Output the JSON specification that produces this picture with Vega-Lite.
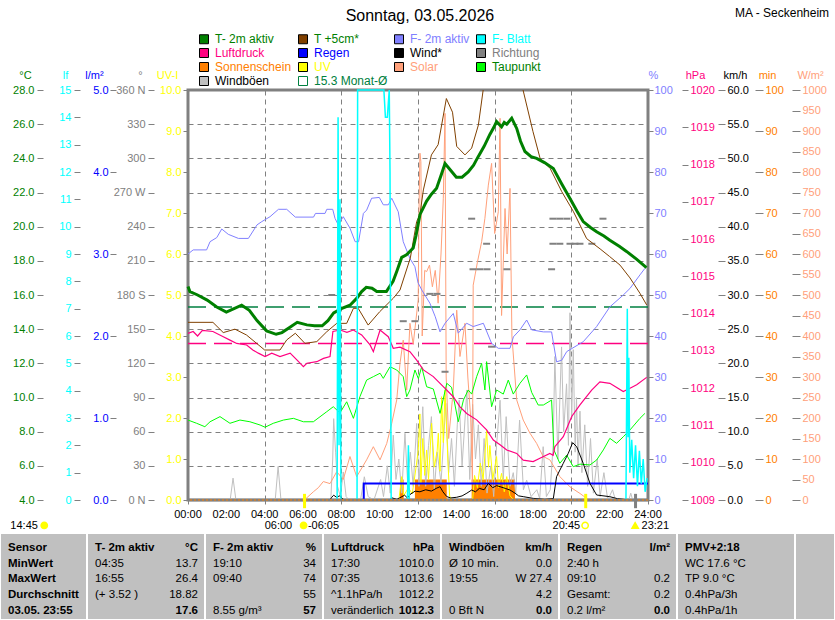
{
  "$schema": "https://vega.github.io/schema/vega-lite/v6.json",
  "width": 460,
  "height": 410,
  "autosize": "none",
  "padding": {"left": 188, "top": 90, "right": 187, "bottom": 120},
  "config": {
    "view": {"stroke": "#808080", "strokeWidth": 3},
    "font": "Liberation Sans",
    "axis": {
      "labelFont": "Liberation Sans", "labelFontSize": 11, "titleFont": "Liberation Sans", "titleFontSize": 11,
      "titleFontWeight": "normal", "tickColor": "#808080", "domain": false, "grid": false,
      "labelFlush": false, "labelOverlap": false, "titleAngle": 0, "titleAlign": "center",
      "titleBaseline": "middle", "titleY": -15, "titlePadding": 0
    },
    "text": {"font": "Liberation Sans"}
  },
  "datasets": {
    "t2m": [
      {"h":0,"v":16.5},{"h":0.1,"v":16.2},{"h":0.5,"v":16.0},{"h":1.0,"v":15.7},{"h":1.5,"v":15.3},{"h":2.0,"v":15.0},{"h":2.4,"v":15.2},{"h":2.8,"v":15.4},{"h":3.2,"v":15.1},{"h":3.6,"v":14.5},{"h":4.1,"v":13.9},{"h":4.6,"v":13.7},{"h":4.9,"v":13.8},{"h":5.3,"v":14.1},{"h":5.7,"v":14.4},{"h":6.2,"v":14.25},{"h":6.6,"v":14.2},{"h":7.0,"v":14.2},{"h":7.3,"v":14.5},{"h":7.6,"v":14.95},{"h":8.0,"v":15.2},{"h":8.45,"v":15.4},{"h":8.8,"v":15.8},{"h":9.06,"v":16.2},{"h":9.3,"v":16.45},{"h":9.6,"v":16.4},{"h":9.85,"v":16.2},{"h":10.35,"v":16.2},{"h":10.7,"v":16.8},{"h":10.9,"v":17.4},{"h":11.15,"v":18.2},{"h":11.4,"v":18.35},{"h":11.75,"v":18.75},{"h":11.9,"v":19.5},{"h":12.1,"v":20.7},{"h":12.45,"v":21.5},{"h":12.7,"v":21.9},{"h":12.97,"v":22.25},{"h":13.2,"v":23.0},{"h":13.41,"v":23.7},{"h":13.7,"v":23.3},{"h":14.0,"v":22.9},{"h":14.3,"v":22.9},{"h":14.62,"v":23.2},{"h":14.9,"v":23.6},{"h":15.14,"v":24.1},{"h":15.45,"v":24.7},{"h":15.75,"v":25.4},{"h":15.95,"v":25.8},{"h":16.1,"v":26.15},{"h":16.36,"v":25.85},{"h":16.5,"v":26.1},{"h":16.63,"v":26.0},{"h":16.89,"v":26.35},{"h":17.15,"v":25.75},{"h":17.35,"v":25.0},{"h":17.58,"v":24.4},{"h":17.9,"v":24.1},{"h":18.19,"v":24.0},{"h":18.6,"v":23.75},{"h":19.06,"v":23.4},{"h":19.5,"v":22.5},{"h":19.93,"v":21.65},{"h":20.3,"v":20.9},{"h":20.62,"v":20.3},{"h":21.0,"v":19.95},{"h":21.32,"v":19.7},{"h":21.7,"v":19.45},{"h":22.01,"v":19.2},{"h":22.5,"v":18.85},{"h":22.88,"v":18.55},{"h":23.4,"v":18.1},{"h":23.92,"v":17.6}
    ],
    "t5": [
      {"h":0,"v":14.4},{"h":1.3,"v":14.4},{"h":1.84,"v":13.8},{"h":2.45,"v":14.0},{"h":3.05,"v":13.66},{"h":4.0,"v":12.78},{"h":4.8,"v":12.78},{"h":5.15,"v":13.37},{"h":5.6,"v":13.76},{"h":6.1,"v":13.17},{"h":6.72,"v":13.27},{"h":7.24,"v":13.85},{"h":7.76,"v":14.34},{"h":8.28,"v":14.34},{"h":8.63,"v":15.22},{"h":8.88,"v":15.22},{"h":9.4,"v":14.24},{"h":10.0,"v":15.02},{"h":10.71,"v":15.81},{"h":11.06,"v":16.29},{"h":11.6,"v":18.17},{"h":11.93,"v":20.3},{"h":12.1,"v":20.7},{"h":12.28,"v":22.15},{"h":12.7,"v":24.2},{"h":13.05,"v":24.8},{"h":13.48,"v":27.5},{"h":13.8,"v":26.7},{"h":14.02,"v":24.7},{"h":14.45,"v":24.2},{"h":14.8,"v":24.6},{"h":15.15,"v":25.95},{"h":15.4,"v":28.0},{"h":16.0,"v":31.5},{"h":16.5,"v":32.5},{"h":17.0,"v":31.0},{"h":17.48,"v":28.0},{"h":18.0,"v":25.56},{"h":18.37,"v":24.0},{"h":18.9,"v":23.4},{"h":19.5,"v":22.05},{"h":20.1,"v":20.9},{"h":20.8,"v":19.3},{"h":21.5,"v":18.7},{"h":22.0,"v":18.25},{"h":22.54,"v":17.75},{"h":23.06,"v":17.0},{"h":23.58,"v":16.1},{"h":23.93,"v":15.42}
    ],
    "f2m": [
      {"h":0,"v":60},{"h":0.27,"v":61},{"h":0.97,"v":61},{"h":1.15,"v":63},{"h":1.5,"v":64},{"h":1.76,"v":66.1},{"h":2.1,"v":64.8},{"h":2.63,"v":63.8},{"h":3.15,"v":63.8},{"h":3.6,"v":67.1},{"h":3.85,"v":67.9},{"h":4.28,"v":69.1},{"h":4.72,"v":70.9},{"h":5.15,"v":70.9},{"h":5.6,"v":69},{"h":6.55,"v":69},{"h":6.65,"v":69.9},{"h":7.15,"v":69.9},{"h":7.24,"v":70.9},{"h":7.55,"v":70.9},{"h":7.67,"v":68.7},{"h":7.84,"v":67.1},{"h":8.1,"v":69.1},{"h":8.45,"v":66.3},{"h":8.72,"v":63},{"h":8.9,"v":63},{"h":9.15,"v":69.9},{"h":9.32,"v":70.7},{"h":9.58,"v":73.6},{"h":9.98,"v":73.8},{"h":10.19,"v":72},{"h":10.45,"v":72},{"h":10.63,"v":73.6},{"h":10.97,"v":70.3},{"h":11.23,"v":63},{"h":11.58,"v":58.9},{"h":11.84,"v":56.9},{"h":12.0,"v":53},{"h":12.2,"v":51.2},{"h":12.62,"v":48},{"h":12.9,"v":44.7},{"h":13.15,"v":41},{"h":13.41,"v":43.1},{"h":13.84,"v":45.5},{"h":14.1,"v":40.7},{"h":14.54,"v":43.1},{"h":14.88,"v":42.3},{"h":15.41,"v":43.1},{"h":15.84,"v":38.2},{"h":16.19,"v":37},{"h":16.8,"v":37},{"h":16.98,"v":39.8},{"h":17.32,"v":41.5},{"h":17.67,"v":43.9},{"h":17.93,"v":41.5},{"h":18.54,"v":41},{"h":18.97,"v":41},{"h":19.23,"v":33.7},{"h":19.5,"v":34.1},{"h":19.76,"v":36.2},{"h":20.62,"v":38.6},{"h":21.32,"v":42.3},{"h":22.01,"v":47.1},{"h":22.71,"v":50},{"h":23.06,"v":51.6},{"h":23.58,"v":54.9},{"h":23.84,"v":56.5}
    ],
    "fblatt": [
      {"h":0,"v":0},{"h":7.78,"v":0},{"h":7.83,"v":14},{"h":7.88,"v":2},{"h":7.93,"v":11},{"h":7.98,"v":0},{"h":8.82,"v":0},{"h":8.85,"v":15},{"h":10.22,"v":15},{"h":10.3,"v":14},{"h":10.4,"v":14},{"h":10.45,"v":14.5},{"h":10.5,"v":15},{"h":10.54,"v":12},{"h":10.6,"v":0},{"h":11.45,"v":0},{"h":11.5,"v":2},{"h":11.55,"v":0},{"h":22.85,"v":0},{"h":22.92,"v":7},{"h":22.96,"v":2.3},{"h":23.0,"v":5.2},{"h":23.05,"v":1},{"h":23.15,"v":2.2},{"h":23.25,"v":0.8},{"h":23.35,"v":2.0},{"h":23.45,"v":0.5},{"h":23.55,"v":1.8},{"h":23.65,"v":0.6},{"h":23.75,"v":1.5},{"h":23.85,"v":0.3},{"h":23.95,"v":0.8}
    ],
    "luftdruck": [
      {"h":0,"v":1013.47},{"h":0.27,"v":1013.52},{"h":0.5,"v":1013.4},{"h":0.75,"v":1013.55},{"h":1.3,"v":1013.52},{"h":1.84,"v":1013.38},{"h":2.19,"v":1013.29},{"h":2.54,"v":1013.2},{"h":3.06,"v":1013.16},{"h":3.4,"v":1013.02},{"h":3.67,"v":1012.94},{"h":4.02,"v":1012.85},{"h":4.37,"v":1012.94},{"h":4.8,"v":1012.85},{"h":5.33,"v":1012.94},{"h":5.68,"v":1012.76},{"h":6.02,"v":1012.58},{"h":6.2,"v":1012.67},{"h":6.72,"v":1012.71},{"h":7.07,"v":1012.8},{"h":7.41,"v":1012.85},{"h":7.56,"v":1013.52},{"h":7.94,"v":1013.56},{"h":8.29,"v":1013.5},{"h":8.63,"v":1013.56},{"h":9.06,"v":1013.43},{"h":9.5,"v":1013.16},{"h":9.67,"v":1012.98},{"h":10.02,"v":1013.56},{"h":10.45,"v":1013.38},{"h":10.71,"v":1013.07},{"h":11.06,"v":1013.1},{"h":11.58,"v":1012.98},{"h":11.93,"v":1012.75},{"h":12.28,"v":1012.49},{"h":12.8,"v":1012.31},{"h":13.32,"v":1012.04},{"h":13.84,"v":1011.77},{"h":14.19,"v":1011.5},{"h":14.54,"v":1011.32},{"h":15.06,"v":1011.15},{"h":15.58,"v":1010.88},{"h":15.93,"v":1010.61},{"h":16.28,"v":1010.48},{"h":16.63,"v":1010.34},{"h":17.15,"v":1010.25},{"h":17.49,"v":1010.07},{"h":18.01,"v":1010.03},{"h":18.36,"v":1010.12},{"h":18.88,"v":1010.25},{"h":19.05,"v":1010.2},{"h":19.14,"v":1010.43},{"h":19.58,"v":1010.7},{"h":20.02,"v":1011.24},{"h":20.45,"v":1011.55},{"h":21.06,"v":1011.95},{"h":21.49,"v":1012.17},{"h":22.01,"v":1012.13},{"h":22.71,"v":1011.91},{"h":23.06,"v":1012.0},{"h":23.41,"v":1012.09},{"h":23.93,"v":1012.29}
    ],
    "regen": [
      {"h":9.15,"v":0},{"h":9.17,"v":0.2},{"h":24,"v":0.2}
    ],
    "wind": [
      {"h":0,"v":0},{"h":7.4,"v":0},{"h":7.5,"v":0.4},{"h":7.6,"v":0.7},{"h":7.75,"v":0.4},{"h":7.9,"v":0.6},{"h":8.1,"v":0.1},{"h":8.3,"v":0},{"h":10.5,"v":0},{"h":10.65,"v":0.3},{"h":10.9,"v":0.1},{"h":11.3,"v":0.7},{"h":11.45,"v":0.3},{"h":11.58,"v":0.8},{"h":11.85,"v":1.3},{"h":12.1,"v":1.2},{"h":12.4,"v":1.5},{"h":12.7,"v":1.3},{"h":12.95,"v":1.7},{"h":13.15,"v":1.95},{"h":13.3,"v":1.2},{"h":13.5,"v":0.5},{"h":13.7,"v":0.3},{"h":14.02,"v":0.4},{"h":14.3,"v":0.6},{"h":14.55,"v":1.0},{"h":14.8,"v":1.46},{"h":15.0,"v":1.2},{"h":15.2,"v":1.7},{"h":15.45,"v":1.5},{"h":15.67,"v":2.44},{"h":15.9,"v":1.8},{"h":16.1,"v":2.1},{"h":16.28,"v":1.95},{"h":16.55,"v":1.7},{"h":16.8,"v":1.46},{"h":17.06,"v":1.0},{"h":17.25,"v":0.6},{"h":17.49,"v":0.49},{"h":18.01,"v":0.24},{"h":18.62,"v":0.1},{"h":19.06,"v":0.2},{"h":19.23,"v":3.41},{"h":19.58,"v":5.37},{"h":19.84,"v":6.83},{"h":20.07,"v":8.39},{"h":20.28,"v":7.8},{"h":20.62,"v":5.37},{"h":20.97,"v":2.44},{"h":21.32,"v":0.73},{"h":22.0,"v":0.49},{"h":22.4,"v":0.2},{"h":22.71,"v":0.1},{"h":22.9,"v":0},{"h":24,"v":0}
    ],
    "boeen": [
      {"h":0,"v":0},{"h":2.2,"v":0},{"h":2.35,"v":3.2},{"h":2.5,"v":0},{"h":4.55,"v":0},{"h":4.7,"v":4.9},{"h":4.85,"v":0},{"h":7.45,"v":0},{"h":7.55,"v":6},{"h":7.6,"v":11.9},{"h":7.7,"v":7},{"h":7.8,"v":2},{"h":7.95,"v":0.5},{"h":8.1,"v":4.1},{"h":8.25,"v":0.5},{"h":8.4,"v":0},{"h":9.0,"v":0},{"h":9.2,"v":3.4},{"h":9.4,"v":0.5},{"h":9.7,"v":0},{"h":10.05,"v":3},{"h":10.2,"v":0.5},{"h":10.4,"v":5},{"h":10.55,"v":1},{"h":10.71,"v":9.5},{"h":10.85,"v":3},{"h":11.0,"v":6},{"h":11.15,"v":1},{"h":11.32,"v":9.76},{"h":11.45,"v":3},{"h":11.6,"v":7},{"h":11.75,"v":2},{"h":11.93,"v":11.2},{"h":12.05,"v":2},{"h":12.25,"v":13.65},{"h":12.4,"v":2},{"h":12.55,"v":8},{"h":12.7,"v":12.2},{"h":12.85,"v":1.5},{"h":13.0,"v":7},{"h":13.2,"v":2.5},{"h":13.45,"v":14.15},{"h":13.6,"v":4},{"h":13.75,"v":9},{"h":13.9,"v":2},{"h":14.05,"v":11},{"h":14.15,"v":14.6},{"h":14.3,"v":5},{"h":14.55,"v":16.1},{"h":14.7,"v":3},{"h":14.85,"v":14},{"h":15.0,"v":6},{"h":15.15,"v":11},{"h":15.3,"v":2},{"h":15.45,"v":9},{"h":15.6,"v":1},{"h":15.8,"v":5},{"h":15.95,"v":0.5},{"h":16.1,"v":8},{"h":16.28,"v":14.6},{"h":16.45,"v":3},{"h":16.6,"v":12.2},{"h":16.8,"v":2},{"h":16.97,"v":4},{"h":17.1,"v":1},{"h":17.3,"v":11.7},{"h":17.5,"v":1.5},{"h":17.67,"v":2.9},{"h":17.9,"v":0.5},{"h":18.2,"v":1.5},{"h":18.35,"v":0.2},{"h":18.53,"v":7.8},{"h":18.7,"v":0.5},{"h":18.9,"v":1.5},{"h":19.05,"v":8},{"h":19.14,"v":21},{"h":19.3,"v":6},{"h":19.49,"v":22.4},{"h":19.6,"v":10},{"h":19.75,"v":17},{"h":19.85,"v":8},{"h":19.93,"v":27.4},{"h":20.02,"v":12},{"h":20.1,"v":22},{"h":20.2,"v":7},{"h":20.27,"v":15},{"h":20.35,"v":5},{"h":20.45,"v":13},{"h":20.55,"v":4},{"h":20.7,"v":11},{"h":20.85,"v":2},{"h":21.0,"v":9},{"h":21.15,"v":1},{"h":21.35,"v":6},{"h":21.5,"v":0.5},{"h":21.7,"v":4},{"h":21.9,"v":0},{"h":22.15,"v":1.5},{"h":22.3,"v":0},{"h":23.0,"v":0},{"h":23.1,"v":1},{"h":23.2,"v":0},{"h":24,"v":0}
    ],
    "richtung": [
      {"h":7.5,"v":180},{"h":11.23,"v":157},{"h":11.84,"v":157},{"h":12.62,"v":181},{"h":12.99,"v":181},{"h":13.41,"v":112.6},{"h":14.8,"v":247},{"h":14.87,"v":202.6},{"h":15.23,"v":202.6},{"h":15.6,"v":202.6},{"h":15.58,"v":225},{"h":15.84,"v":134.6},{"h":16.64,"v":202.6},{"h":19.04,"v":247},{"h":19.4,"v":247},{"h":19.77,"v":247},{"h":21.65,"v":247},{"h":19.04,"v":225},{"h":19.4,"v":225},{"h":19.93,"v":225},{"h":20.19,"v":225},{"h":20.45,"v":225},{"h":21.07,"v":225},{"h":18.97,"v":202.6}
    ],
    "sonne": [
      {"h":0,"v":0},{"h":11.06,"v":5},{"h":11.25,"v":0},{"h":11.84,"v":5},{"h":13.5,"v":0},{"h":14.8,"v":5},{"h":17.06,"v":0},{"h":24,"v":0}
    ],
    "uv": [
      {"h":0,"v":0},{"h":11.0,"v":0},{"h":11.15,"v":0.57},{"h":11.25,"v":0.1},{"h":11.5,"v":0.3},{"h":11.7,"v":0.15},{"h":11.9,"v":0.8},{"h":12.01,"v":1.2},{"h":12.1,"v":2.1},{"h":12.15,"v":0.4},{"h":12.25,"v":1.5},{"h":12.35,"v":0.6},{"h":12.45,"v":1.22},{"h":12.55,"v":0.5},{"h":12.71,"v":1.87},{"h":12.85,"v":0.8},{"h":13.0,"v":1.2},{"h":13.06,"v":1.63},{"h":13.15,"v":0.7},{"h":13.23,"v":2.52},{"h":13.32,"v":1.4},{"h":13.41,"v":2.68},{"h":13.58,"v":0.75},{"h":13.65,"v":0.1},{"h":13.75,"v":0},{"h":14.85,"v":0},{"h":14.95,"v":0.6},{"h":15.1,"v":0.3},{"h":15.25,"v":0.9},{"h":15.4,"v":0.5},{"h":15.58,"v":1.7},{"h":15.68,"v":0.8},{"h":15.75,"v":1.33},{"h":15.9,"v":0.5},{"h":16.1,"v":1.06},{"h":16.2,"v":0.3},{"h":16.36,"v":0.65},{"h":16.5,"v":0.2},{"h":16.63,"v":0.57},{"h":16.8,"v":0.1},{"h":17.0,"v":0},{"h":24,"v":0}
    ],
    "solar": [
      {"h":0,"v":0},{"h":6.05,"v":0},{"h":6.19,"v":5},{"h":6.54,"v":20},{"h":6.8,"v":30},{"h":7.06,"v":45},{"h":7.41,"v":40},{"h":7.76,"v":69},{"h":8.1,"v":50},{"h":8.45,"v":106},{"h":8.8,"v":57},{"h":9.32,"v":98},{"h":9.67,"v":130},{"h":10.02,"v":98},{"h":10.37,"v":138},{"h":10.63,"v":187},{"h":10.89,"v":244},{"h":11.06,"v":333},{"h":11.23,"v":390},{"h":11.41,"v":268},{"h":11.58,"v":431},{"h":11.75,"v":380},{"h":12.01,"v":488},{"h":12.05,"v":700},{"h":12.1,"v":846},{"h":12.15,"v":825},{"h":12.22,"v":400},{"h":12.35,"v":560},{"h":12.45,"v":557},{"h":12.6,"v":573},{"h":12.75,"v":520},{"h":12.9,"v":560},{"h":13.05,"v":480},{"h":13.2,"v":600},{"h":13.32,"v":736},{"h":13.41,"v":943},{"h":13.47,"v":300},{"h":13.6,"v":150},{"h":13.84,"v":268},{"h":14.02,"v":463},{"h":14.19,"v":350},{"h":14.45,"v":431},{"h":14.6,"v":300},{"h":14.75,"v":200},{"h":14.84,"v":41},{"h":14.88,"v":524},{"h":15.1,"v":580},{"h":15.32,"v":630},{"h":15.49,"v":687},{"h":15.67,"v":768},{"h":15.84,"v":821},{"h":16.0,"v":650},{"h":16.19,"v":703},{"h":16.28,"v":931},{"h":16.36,"v":450},{"h":16.54,"v":711},{"h":16.65,"v":600},{"h":16.8,"v":760},{"h":16.9,"v":400},{"h":17.15,"v":244},{"h":17.49,"v":195},{"h":17.84,"v":163},{"h":18.19,"v":138},{"h":18.53,"v":106},{"h":18.88,"v":98},{"h":19.4,"v":57},{"h":19.93,"v":32},{"h":20.45,"v":16},{"h":20.8,"v":4},{"h":21.0,"v":0},{"h":24,"v":0}
    ],
    "taupunkt": [
      {"h":0,"v":8.68},{"h":0.45,"v":8.49},{"h":0.88,"v":8.29},{"h":1.15,"v":8.58},{"h":1.67,"v":8.88},{"h":2.19,"v":8.49},{"h":2.71,"v":8.68},{"h":3.23,"v":8.58},{"h":3.76,"v":8.39},{"h":4.02,"v":8.26},{"h":4.45,"v":8.49},{"h":4.98,"v":8.68},{"h":5.5,"v":8.78},{"h":6.02,"v":8.58},{"h":6.54,"v":8.58},{"h":7.24,"v":9.17},{"h":7.58,"v":9.46},{"h":7.93,"v":9.1},{"h":8.28,"v":9.75},{"h":8.63,"v":8.78},{"h":8.97,"v":10.05},{"h":9.32,"v":11.02},{"h":9.67,"v":11.22},{"h":10.02,"v":11.42},{"h":10.19,"v":11.12},{"h":10.54,"v":11.8},{"h":10.89,"v":11.61},{"h":11.23,"v":11.22},{"h":11.41,"v":10.05},{"h":11.58,"v":10.44},{"h":11.84,"v":11.61},{"h":12.02,"v":11.1},{"h":12.19,"v":11.8},{"h":12.45,"v":10.63},{"h":12.8,"v":10.5},{"h":13.15,"v":9.07},{"h":13.5,"v":10.83},{"h":13.75,"v":10.6},{"h":14.1,"v":8.58},{"h":14.37,"v":9.85},{"h":14.62,"v":10.44},{"h":14.8,"v":10.2},{"h":15.06,"v":11.22},{"h":15.32,"v":12.0},{"h":15.49,"v":10.44},{"h":15.58,"v":12.1},{"h":15.84,"v":9.46},{"h":16.1,"v":10.44},{"h":16.45,"v":10.2},{"h":16.71,"v":11.02},{"h":16.97,"v":10.2},{"h":17.32,"v":10.83},{"h":17.67,"v":11.32},{"h":17.93,"v":10.3},{"h":18.27,"v":9.56},{"h":18.54,"v":9.56},{"h":18.97,"v":9.85},{"h":19.09,"v":6.93},{"h":19.4,"v":6.15},{"h":19.76,"v":6.63},{"h":20.1,"v":5.95},{"h":20.45,"v":6.1},{"h":20.97,"v":6.05},{"h":21.32,"v":6.34},{"h":21.67,"v":6.93},{"h":22.01,"v":7.61},{"h":22.36,"v":7.32},{"h":22.71,"v":7.7},{"h":23.06,"v":8.1},{"h":23.58,"v":8.78},{"h":23.84,"v":9.07}
    ],
    "mittel": [
      {"s":"Temperatur","v":15.3},{"s":"Luftdruck","v":1013.2}
    ],
    "stunden": [
      {"h":0,"t":"00:00"},{"h":2,"t":"02:00"},{"h":4,"t":"04:00"},{"h":6,"t":"06:00"},{"h":8,"t":"08:00"},{"h":10,"t":"10:00"},{"h":12,"t":"12:00"},{"h":14,"t":"14:00"},{"h":16,"t":"16:00"},{"h":18,"t":"18:00"},{"h":20,"t":"20:00"},{"h":22,"t":"22:00"},{"h":24,"t":"24:00"}
    ],
    "legende": [
      {"s":"T- 2m aktiv"},{"s":"T +5cm*"},{"s":"F- 2m aktiv"},{"s":"F- Blatt"},
      {"s":"Luftdruck"},{"s":"Regen"},{"s":"Wind*"},{"s":"Richtung"},
      {"s":"Sonnenschein"},{"s":"UV"},{"s":"Solar"},{"s":"Taupunkt"},
      {"s":"Windböen"},{"s":"15.3 Monat-Ø"}
    ],
    "astro_text": [
      {"h":4.72,"t":"06:00"},{"h":7.07,"t":"-06:05"},{"h":19.74,"t":"20:45"},{"h":24.38,"t":"23:21"},{"h":-8.55,"t":"14:45"}
    ],
    "astro_icons": [
      {"h":6.03,"k":"Sonnenaufgang"},{"h":20.72,"k":"Sonnenuntergang"},{"h":23.33,"k":"Mondaufgang"},{"h":-7.5,"k":"Tageslänge"}
    ],
    "astro_marken": [
      {"h":6.08,"k":"Sonnenaufgang"},{"h":20.75,"k":"Sonnenuntergang"},{"h":23.35,"k":"Mondaufgang"}
    ],
    "spalten": [
      {"c":0},{"c":1},{"c":2},{"c":3},{"c":4},{"c":5},{"c":6},{"c":7}
    ],
    "tabelle": [
      {"c":0,"r":0,"part":"l","t":"Sensor"},
      {"c":0,"r":1,"part":"l","t":"MinWert"},
      {"c":0,"r":2,"part":"l","t":"MaxWert"},
      {"c":0,"r":3,"part":"l","t":"Durchschnitt"},
      {"c":0,"r":4,"part":"l","t":"03.05. 23:55"},
      {"c":1,"r":0,"part":"l","t":"T- 2m aktiv"},{"c":1,"r":0,"part":"r","t":"°C"},
      {"c":1,"r":1,"part":"l","t":"04:35"},{"c":1,"r":1,"part":"r","t":"13.7"},
      {"c":1,"r":2,"part":"l","t":"16:55"},{"c":1,"r":2,"part":"r","t":"26.4"},
      {"c":1,"r":3,"part":"l","t":"(+ 3.52 )"},{"c":1,"r":3,"part":"r","t":"18.82"},
      {"c":1,"r":4,"part":"r","t":"17.6"},
      {"c":2,"r":0,"part":"l","t":"F- 2m aktiv"},{"c":2,"r":0,"part":"r","t":"%"},
      {"c":2,"r":1,"part":"l","t":"19:10"},{"c":2,"r":1,"part":"r","t":"34"},
      {"c":2,"r":2,"part":"l","t":"09:40"},{"c":2,"r":2,"part":"r","t":"74"},
      {"c":2,"r":3,"part":"r","t":"55"},
      {"c":2,"r":4,"part":"l","t":"8.55 g/m³"},{"c":2,"r":4,"part":"r","t":"57"},
      {"c":3,"r":0,"part":"l","t":"Luftdruck"},{"c":3,"r":0,"part":"r","t":"hPa"},
      {"c":3,"r":1,"part":"l","t":"17:30"},{"c":3,"r":1,"part":"r","t":"1010.0"},
      {"c":3,"r":2,"part":"l","t":"07:35"},{"c":3,"r":2,"part":"r","t":"1013.6"},
      {"c":3,"r":3,"part":"l","t":"^1.1hPa/h"},{"c":3,"r":3,"part":"r","t":"1012.2"},
      {"c":3,"r":4,"part":"l","t":"veränderlich"},{"c":3,"r":4,"part":"r","t":"1012.3"},
      {"c":4,"r":0,"part":"l","t":"Windböen"},{"c":4,"r":0,"part":"r","t":"km/h"},
      {"c":4,"r":1,"part":"l","t":"Ø 10 min."},{"c":4,"r":1,"part":"r","t":"0.0"},
      {"c":4,"r":2,"part":"l","t":"19:55"},{"c":4,"r":2,"part":"r","t":"W 27.4"},
      {"c":4,"r":3,"part":"r","t":"4.2"},
      {"c":4,"r":4,"part":"l","t":"0 Bft N"},{"c":4,"r":4,"part":"r","t":"0.0"},
      {"c":5,"r":0,"part":"l","t":"Regen"},{"c":5,"r":0,"part":"r","t":"l/m²"},
      {"c":5,"r":1,"part":"l","t":"2:40 h"},
      {"c":5,"r":2,"part":"l","t":"09:10"},{"c":5,"r":2,"part":"r","t":"0.2"},
      {"c":5,"r":3,"part":"l","t":"Gesamt:"},{"c":5,"r":3,"part":"r","t":"0.2"},
      {"c":5,"r":4,"part":"l","t":"0.2 l/m²"},{"c":5,"r":4,"part":"r","t":"0.0"},
      {"c":6,"r":0,"part":"l","t":"PMV+2:18"},
      {"c":6,"r":1,"part":"l","t":"WC 17.6 °C"},
      {"c":6,"r":2,"part":"l","t":"TP 9.0 °C"},
      {"c":6,"r":3,"part":"l","t":"0.4hPa/3h"},
      {"c":6,"r":4,"part":"l","t":"0.4hPa/1h"}
    ]
  },
  "resolve": {"scale": {"x": "independent", "y": "independent"}},
  "layer": [
    {
      "resolve": {"scale": {"y": "independent"}},
      "layer": [
        {
          "data": {"name": "mittel"},
          "transform": [{"filter": "datum.s === 'Temperatur'"}],
          "mark": {"type": "rule", "color": "#008040", "strokeDash": [18, 8], "strokeWidth": 1.5},
          "encoding": {
            "y": {"field": "v", "type": "quantitative", "scale": {"domain": [4, 28], "nice": false, "zero": false},
              "axis": {"orient": "left", "offset": 0, "grid": true, "gridDash": [5, 4], "gridColor": "#808080", "labels": false, "ticks": false, "domain": false, "title": null, "values": [6, 8, 10, 12, 14, 16, 18, 20, 22, 24, 26]}}
          }
        },
        {
          "data": {"name": "mittel"},
          "transform": [{"filter": "datum.s === 'Luftdruck'"}],
          "mark": {"type": "rule", "color": "#ff0080", "strokeDash": [18, 8], "strokeWidth": 1.5},
          "encoding": {
            "y": {"field": "v", "type": "quantitative", "scale": {"domain": [1009, 1020], "nice": false, "zero": false}, "axis": null}
          }
        },
        {
          "data": {"name": "sonne"},
          "mark": {"type": "area", "interpolate": "step-after", "color": "#ff8000"},
          "encoding": {
            "x": {"field": "h", "type": "quantitative", "title": null, "scale": {"domain": [0, 24], "nice": false, "zero": false},
              "axis": {"values": [0, 2, 4, 6, 8, 10, 12, 14, 16, 18, 20, 22, 24], "labels": false, "grid": true, "gridDash": [5, 4], "gridColor": "#808080", "ticks": true, "tickSize": 4, "tickColor": "#808080", "domain": false, "title": null}},
            "y": {"field": "v", "type": "quantitative", "scale": {"domain": [0, 100], "nice": false, "zero": false},
              "axis": {"orient": "right", "offset": 107, "values": [0, 10, 20, 30, 40, 50, 60, 70, 80, 90, 100], "format": "d", "labelColor": "#ff8000", "tickSize": 8, "labelPadding": 2, "title": "min", "titleColor": "#ff8000", "titleX": 12}}
          }
        },
        {
          "data": {"name": "boeen"},
          "mark": {"type": "line", "color": "#c0c0c0", "strokeWidth": 1},
          "encoding": {
            "x": {"field": "h", "type": "quantitative", "title": null},
            "y": {"field": "v", "type": "quantitative", "scale": {"domain": [0, 60], "nice": false, "zero": false}, "axis": null}
          }
        },
        {
          "data": {"name": "solar"},
          "mark": {"type": "line", "color": "#ffa07a", "strokeWidth": 1},
          "encoding": {
            "x": {"field": "h", "type": "quantitative", "title": null},
            "y": {"field": "v", "type": "quantitative", "scale": {"domain": [0, 1000], "nice": false, "zero": false},
              "axis": {"orient": "right", "offset": 144, "values": [0, 50, 100, 150, 200, 250, 300, 350, 400, 450, 500, 550, 600, 650, 700, 750, 800, 850, 900, 950, 1000], "format": "d", "labelColor": "#ffa07a", "tickSize": 8, "labelPadding": 2, "title": "W/m²", "titleColor": "#ffa07a", "titleX": 18}}
          }
        },
        {
          "data": {"name": "uv"},
          "mark": {"type": "line", "color": "#ffff00", "strokeWidth": 1},
          "encoding": {
            "x": {"field": "h", "type": "quantitative", "title": null},
            "y": {"field": "v", "type": "quantitative", "scale": {"domain": [0, 10], "nice": false, "zero": false},
              "axis": {"orient": "left", "offset": 0, "values": [0, 1, 2, 3, 4, 5, 6, 7, 8, 9, 10], "format": ".1f", "labelColor": "#ffff00", "tickSize": 5, "labelPadding": 2, "title": "UV-I", "titleColor": "#ffff00", "titleX": -21}}
          }
        },
        {
          "data": {"name": "richtung"},
          "mark": {"type": "tick", "orient": "horizontal", "color": "#808080", "size": 7, "thickness": 2, "opacity": 1},
          "encoding": {
            "x": {"field": "h", "type": "quantitative", "title": null},
            "y": {"field": "v", "type": "quantitative", "scale": {"domain": [0, 360], "nice": false, "zero": false},
              "axis": {"orient": "left", "offset": 34, "values": [0, 30, 60, 90, 120, 150, 180, 210, 240, 270, 300, 330, 360], "labelExpr": "datum.value == 360 ? '360 N' : datum.value == 270 ? '270 W' : datum.value == 180 ? '180 S' : datum.value == 0 ? '0 N' : datum.label", "labelColor": "#808080", "tickSize": 6, "labelPadding": 3, "title": "°", "titleColor": "#808080", "titleX": -14}}
          }
        },
        {
          "data": {"name": "f2m"},
          "mark": {"type": "line", "color": "#8080ff", "strokeWidth": 1},
          "encoding": {
            "x": {"field": "h", "type": "quantitative", "title": null},
            "y": {"field": "v", "type": "quantitative", "scale": {"domain": [0, 100], "nice": false, "zero": false},
              "axis": {"orient": "right", "offset": 0, "values": [0, 10, 20, 30, 40, 50, 60, 70, 80, 90, 100], "format": "d", "labelColor": "#8080ff", "tickSize": 5, "labelPadding": 1, "title": "%", "titleColor": "#8080ff", "titleX": 5}}
          }
        },
        {
          "data": {"name": "taupunkt"},
          "mark": {"type": "line", "color": "#00ff00", "strokeWidth": 1},
          "encoding": {
            "x": {"field": "h", "type": "quantitative", "title": null},
            "y": {"field": "v", "type": "quantitative", "scale": {"domain": [4, 28], "nice": false, "zero": false}, "axis": null}
          }
        },
        {
          "data": {"name": "luftdruck"},
          "mark": {"type": "line", "color": "#ff0080", "strokeWidth": 1.2},
          "encoding": {
            "x": {"field": "h", "type": "quantitative", "title": null},
            "y": {"field": "v", "type": "quantitative", "scale": {"domain": [1009, 1020], "nice": false, "zero": false},
              "axis": {"orient": "right", "offset": 34, "values": [1009, 1010, 1011, 1012, 1013, 1014, 1015, 1016, 1017, 1018, 1019, 1020], "format": "d", "labelColor": "#ff0080", "tickSize": 6, "labelPadding": 2, "title": "hPa", "titleColor": "#ff0080", "titleX": 13}}
          }
        },
        {
          "data": {"name": "regen"},
          "mark": {"type": "line", "color": "#0000ff", "strokeWidth": 2, "interpolate": "step-after"},
          "encoding": {
            "x": {"field": "h", "type": "quantitative", "title": null},
            "y": {"field": "v", "type": "quantitative", "scale": {"domain": [0, 5], "nice": false, "zero": false},
              "axis": {"orient": "left", "offset": 72, "values": [0, 1, 2, 3, 4, 5], "format": ".1f", "labelColor": "#0000ff", "tickSize": 6, "labelPadding": 2, "title": "l/m²", "titleColor": "#0000ff", "titleX": -22}}
          }
        },
        {
          "data": {"name": "wind"},
          "mark": {"type": "line", "color": "#000000", "strokeWidth": 1},
          "encoding": {
            "x": {"field": "h", "type": "quantitative", "title": null},
            "y": {"field": "v", "type": "quantitative", "scale": {"domain": [0, 60], "nice": false, "zero": false},
              "axis": {"orient": "right", "offset": 70, "values": [0, 5, 10, 15, 20, 25, 30, 35, 40, 45, 50, 55, 60], "format": ".1f", "labelColor": "#000000", "tickSize": 7, "labelPadding": 2, "title": "km/h", "titleColor": "#000000", "titleX": 17}}
          }
        },
        {
          "data": {"name": "t5"},
          "mark": {"type": "line", "color": "#804000", "strokeWidth": 1, "clip": true},
          "encoding": {
            "x": {"field": "h", "type": "quantitative", "title": null},
            "y": {"field": "v", "type": "quantitative", "scale": {"domain": [4, 28], "nice": false, "zero": false}, "axis": null}
          }
        },
        {
          "data": {"name": "t2m"},
          "mark": {"type": "line", "color": "#008000", "strokeWidth": 3},
          "encoding": {
            "x": {"field": "h", "type": "quantitative", "title": null},
            "y": {"field": "v", "type": "quantitative", "scale": {"domain": [4, 28], "nice": false, "zero": false},
              "axis": {"orient": "left", "offset": 145, "values": [4, 6, 8, 10, 12, 14, 16, 18, 20, 22, 24, 26, 28], "format": ".1f", "labelColor": "#008000", "tickSize": 6, "labelPadding": 3, "title": "°C", "titleColor": "#008000", "titleX": -18}}
          }
        },
        {
          "data": {"name": "fblatt"},
          "mark": {"type": "line", "color": "#00ffff", "strokeWidth": 1.5},
          "encoding": {
            "x": {"field": "h", "type": "quantitative", "title": null},
            "y": {"field": "v", "type": "quantitative", "scale": {"domain": [0, 15], "nice": false, "zero": false},
              "axis": {"orient": "left", "offset": 108, "values": [0, 1, 2, 3, 4, 5, 6, 7, 8, 9, 10, 11, 12, 13, 14, 15], "format": "d", "labelColor": "#00ffff", "tickSize": 6, "labelPadding": 3, "title": "lf", "titleColor": "#00ffff", "titleX": -15}}
          }
        },
        {
          "data": {"values": [{"linie": "Zeitachse"}]},
          "mark": {"type": "rule", "color": "#808080", "strokeWidth": 2.5},
          "encoding": {
            "y": {"datum": 0, "scale": {"domain": [0, 10], "nice": false, "zero": false}, "axis": null}
          }
        },
        {
          "data": {"values": [{"linie": "Sonnenschein-Null"}]},
          "mark": {"type": "rule", "color": "#ff8000", "strokeWidth": 1, "strokeDash": [2, 2]},
          "encoding": {
            "y": {"datum": 0, "scale": {"domain": [0, 10], "nice": false, "zero": false}, "axis": null}
          }
        },
        {
          "data": {"name": "stunden"},
          "mark": {"type": "text", "fontSize": 11, "baseline": "middle", "align": "center", "color": "black"},
          "encoding": {
            "x": {"field": "h", "type": "quantitative", "title": null},
            "y": {"datum": -0.354, "scale": {"domain": [0, 10], "nice": false, "zero": false}, "axis": null},
            "text": {"field": "t"}
          }
        },
        {
          "data": {"name": "astro_marken"},
          "mark": {"type": "rule", "strokeWidth": 3},
          "encoding": {
            "x": {"field": "h", "type": "quantitative", "title": null},
            "y": {"datum": 0.15, "scale": {"domain": [0, 10], "nice": false, "zero": false}, "axis": null},
            "y2": {"datum": -0.2},
            "stroke": {"condition": {"test": "datum.k === 'Mondaufgang'", "value": "#808080"}, "value": "#ffff00"}
          }
        },
        {
          "data": {"name": "astro_text"},
          "mark": {"type": "text", "fontSize": 11, "baseline": "middle", "align": "center", "color": "black"},
          "encoding": {
            "x": {"field": "h", "type": "quantitative", "title": null},
            "y": {"datum": -0.634, "scale": {"domain": [0, 10], "nice": false, "zero": false}, "axis": null},
            "text": {"field": "t"}
          }
        },
        {
          "data": {"name": "astro_icons"},
          "mark": {"type": "point", "filled": true, "size": 40, "opacity": 1, "strokeWidth": 1.5},
          "encoding": {
            "x": {"field": "h", "type": "quantitative", "title": null},
            "y": {"datum": -0.62, "scale": {"domain": [0, 10], "nice": false, "zero": false}, "axis": null},
            "shape": {"condition": {"test": "datum.k === 'Mondaufgang'", "value": "triangle-up"}, "value": "circle"},
            "fill": {"condition": {"test": "datum.k === 'Sonnenuntergang'", "value": "transparent"}, "value": "#ffff00"},
            "stroke": {"value": "#ffff00"}
          }
        },
        {
          "data": {"values": [{"t": "Sonntag, 03.05.2026"}]},
          "mark": {"type": "text", "fontSize": 16, "align": "center", "baseline": "alphabetic", "color": "black"},
          "encoding": {
            "x": {"datum": 12.1},
            "y": {"datum": 11.69, "scale": {"domain": [0, 10], "nice": false, "zero": false}, "axis": null},
            "text": {"field": "t"}
          }
        },
        {
          "data": {"values": [{"t": "MA - Seckenheim"}]},
          "mark": {"type": "text", "fontSize": 12, "align": "right", "baseline": "alphabetic", "color": "black"},
          "encoding": {
            "x": {"datum": 33.45},
            "y": {"datum": 11.79, "scale": {"domain": [0, 10], "nice": false, "zero": false}, "axis": null},
            "text": {"field": "t"}
          }
        },
        {
          "data": {"name": "legende"},
          "mark": {"type": "point", "shape": "square", "filled": true, "opacity": 0},
          "encoding": {
            "color": {
              "field": "s", "type": "nominal",
              "scale": {
                "domain": ["T- 2m aktiv", "T +5cm*", "F- 2m aktiv", "F- Blatt", "Luftdruck", "Regen", "Wind*", "Richtung", "Sonnenschein", "UV", "Solar", "Taupunkt", "Windböen", "15.3 Monat-Ø"],
                "range": ["#008000", "#804000", "#8080ff", "#00ffff", "#ff0080", "#0000ff", "#000000", "#808080", "#ff8000", "#ffff00", "#ffa07a", "#00ff00", "#c0c0c0", "#ffffff"]
              },
              "legend": {
                "orient": "none", "legendX": 10, "legendY": -57, "direction": "horizontal", "columns": 4, "title": null,
                "symbolType": "square", "symbolSize": 81, "symbolStrokeWidth": 1, "symbolOpacity": 1,
                "symbolStrokeColor": {"expr": "datum.value === '15.3 Monat-Ø' ? '#008040' : 'black'"},
                "labelFont": "Liberation Sans", "labelFontSize": 12, "labelOffset": 5, "labelLimit": 200,
                "labelColor": {"expr": "indexof(['Wind*','Windböen'], datum.value) >= 0 ? 'black' : indexof(['T- 2m aktiv','T +5cm*','Taupunkt'], datum.value) >= 0 ? '#008000' : datum.value === '15.3 Monat-Ø' ? '#008040' : scale('color', datum.value)"},
                "columnPadding": 4, "rowPadding": 0, "gridAlign": "each", "padding": 0
              }
            }
          }
        }
      ]
    },
    {
      "layer": [
        {
          "data": {"name": "spalten"},
          "transform": [{"calculate": "datum.c + 1", "as": "c1"}],
          "mark": {"type": "rect", "color": "#c0c0c0", "stroke": "#ffffff", "strokeWidth": 2},
          "encoding": {
            "x": {"field": "c", "type": "quantitative", "scale": {"domain": [0, 1, 7, 8], "range": [-188, -101, 607, 647], "nice": false, "zero": false}, "axis": null},
            "x2": {"field": "c1"},
            "y": {"datum": -0.93, "scale": {"domain": [-0.93, 4.57], "range": [443, 530], "nice": false, "zero": false}, "axis": null},
            "y2": {"datum": 4.57}
          }
        },
        {
          "data": {"name": "tabelle"},
          "transform": [{"filter": "datum.part === 'l' && !(datum.r === 0 || datum.c === 0)"}],
          "mark": {"type": "text", "align": "left", "baseline": "middle", "dx": 8, "fontSize": 11.5, "color": "black"},
          "encoding": {
            "x": {"field": "c", "type": "quantitative"},
            "y": {"field": "r", "type": "quantitative"},
            "text": {"field": "t"}
          }
        },
        {
          "data": {"name": "tabelle"},
          "transform": [{"filter": "datum.part === 'l' && (datum.r === 0 || datum.c === 0)"}],
          "mark": {"type": "text", "align": "left", "baseline": "middle", "dx": 8, "fontSize": 11.5, "fontWeight": "bold", "color": "black"},
          "encoding": {
            "x": {"field": "c", "type": "quantitative"},
            "y": {"field": "r", "type": "quantitative"},
            "text": {"field": "t"}
          }
        },
        {
          "data": {"name": "tabelle"},
          "transform": [{"filter": "datum.part === 'r' && !(datum.r === 0 || datum.r === 4)"}, {"calculate": "datum.c + 1", "as": "c1"}],
          "mark": {"type": "text", "align": "right", "baseline": "middle", "dx": -7, "fontSize": 11.5, "color": "black"},
          "encoding": {
            "x": {"field": "c1", "type": "quantitative"},
            "y": {"field": "r", "type": "quantitative"},
            "text": {"field": "t"}
          }
        },
        {
          "data": {"name": "tabelle"},
          "transform": [{"filter": "datum.part === 'r' && (datum.r === 0 || datum.r === 4)"}, {"calculate": "datum.c + 1", "as": "c1"}],
          "mark": {"type": "text", "align": "right", "baseline": "middle", "dx": -7, "fontSize": 11.5, "fontWeight": "bold", "color": "black"},
          "encoding": {
            "x": {"field": "c1", "type": "quantitative"},
            "y": {"field": "r", "type": "quantitative"},
            "text": {"field": "t"}
          }
        }
      ]
    }
  ]
}
